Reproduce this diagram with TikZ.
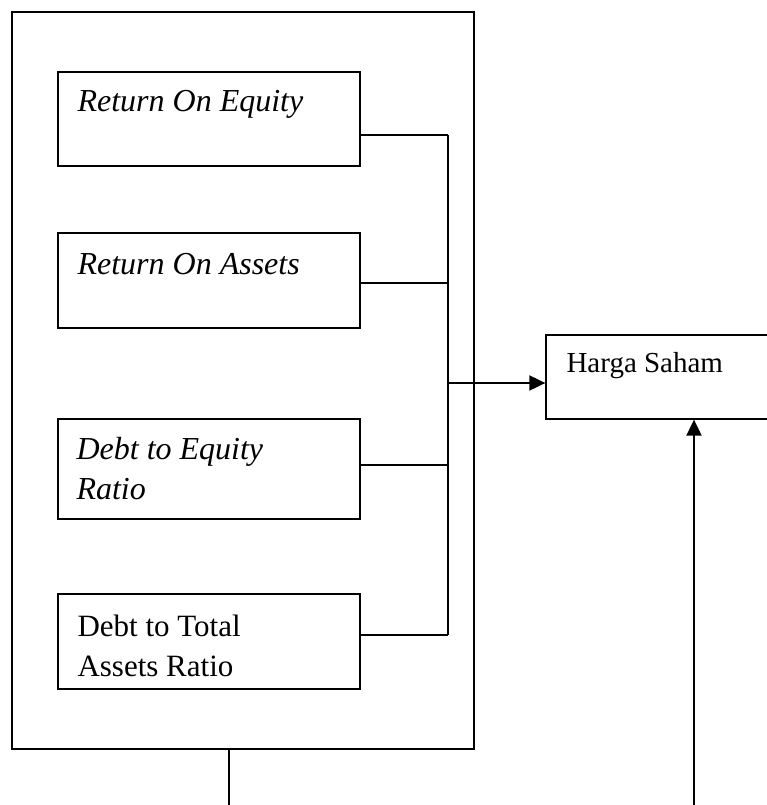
\documentclass[tikz,border=0pt]{standalone}
\usepackage{fontspec}
\setmainfont{Liberation Serif}
\usetikzlibrary{arrows.meta,calc}

\begin{document}
\begin{tikzpicture}[x=1pt, y=-1pt,
    every node/.style={font=\fontsize{31}{40}\selectfont},
    box/.style={draw, line width=1.3pt, minimum width=302pt, inner sep=0pt},
    lbl/.style={anchor=base west, align=left, inner sep=0pt},
    itl/.style={lbl, font=\fontsize{32}{40}\selectfont\itshape},
    link/.style={line width=1.2pt},
    arr/.style={line width=2pt, -{Triangle[length=16pt,width=15pt]}}]
        \useasboundingbox (0,0) rectangle (767,805);
        \clip (0,0) rectangle (767,805);

        % Outer frame
        \node[draw, line width=1.2pt, minimum width=462pt, minimum height=737pt, inner sep=0pt] (frame) at (243,380.5) {};

        % Variable boxes
        \node[box, minimum height=94pt] (roe) at (209,119) {};
        \node[itl] at ($(roe.north west)+(20,40)$) {Return On Equity};

        \node[box, minimum height=95pt] (roa) at (209,280.5) {};
        \node[itl] at ($(roa.north west)+(20,42)$) {Return On Assets};

        \node[box, minimum height=100pt] (der) at (209,469) {};
        \node[itl] at ($(der.north west)+(19,81)$) {Debt to Equity\\Ratio};

        \node[box, minimum height=95pt] (dtar) at (209,641.5) {};
        \node[lbl] at ($(dtar.north west)+(20,83)$) {Debt to Total\\Assets Ratio};

        % Target box
        \node[draw, line width=1.3pt, minimum width=240pt, minimum height=84pt, inner sep=0pt] (harga) at (666,377) {};
        \node[lbl, font=\fontsize{29}{40}\selectfont] at ($(harga.north west)+(21,38)$) {Harga Saham};

        % Bus line
        \coordinate (j1) at (448,135);
        \coordinate (j2) at (448,283);
        \coordinate (j3) at (448,465);
        \coordinate (j4) at (448,635);
        \coordinate (jm) at (448,383);
        \draw[link] (roe.east |- j1) -- (j1);
        \draw[link] (roa.east |- j2) -- (j2);
        \draw[link] (der.east |- j3) -- (j3);
        \draw[link] (dtar.east |- j4) -- (j4);
        \draw[link] (j1) -- (j4);
        \draw[arr] (jm) -- (harga.west |- jm);

        % Lines from below
        \coordinate (b1) at (229,805);
        \coordinate (b2) at (694,805);
        \draw[link] (frame.south -| b1) -- (b1);
        \draw[arr] (b2) -- (harga.south -| b2);

    \end{tikzpicture}
\end{document}
